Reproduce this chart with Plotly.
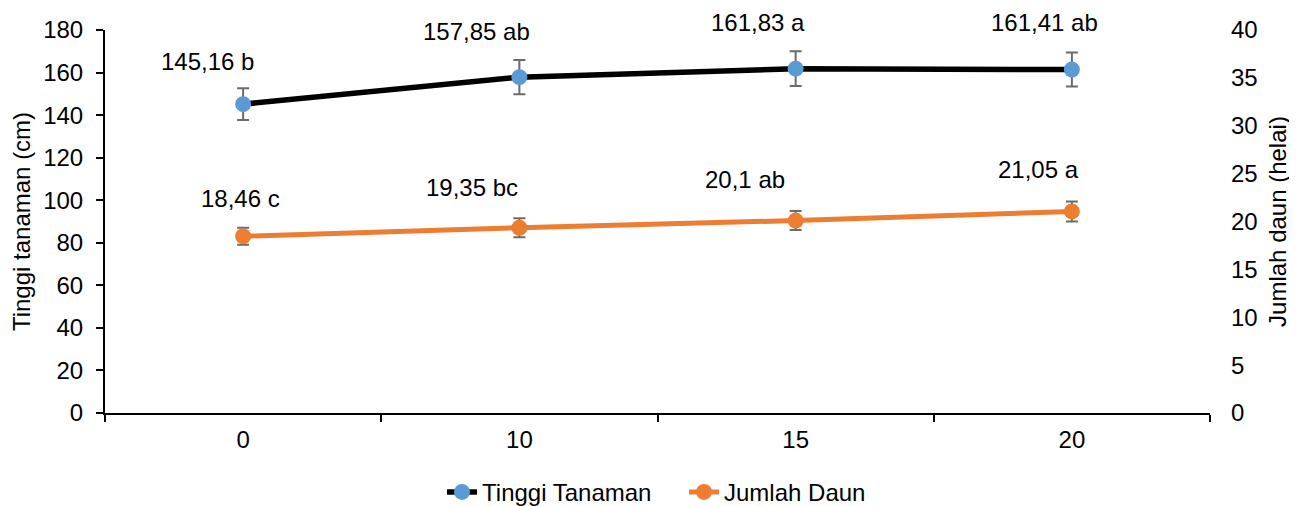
import plotly.graph_objects as go

categories = ["0", "10", "15", "20"]
tinggi = [145.16, 157.85, 161.83, 161.41]
tinggi_err = [7.5, 8.0, 8.2, 8.0]
tinggi_letters = ["b", "ab", "a", "ab"]
daun = [18.46, 19.35, 20.1, 21.05]
daun_err = [0.9, 1.0, 1.0, 1.05]
daun_letters = ["c", "bc", "ab", "a"]

FONT = "Liberation Sans, Arial, sans-serif"
FS = 24

def fmt(v):
    s = f"{v:.2f}".rstrip("0").rstrip(".")
    return s.replace(".", ",")

fig = go.Figure()
fig.add_trace(go.Scatter(
    x=categories, y=tinggi, name="Tinggi Tanaman", mode="lines+markers",
    line=dict(color="#000000", width=5.5),
    marker=dict(color="#5b9bd5", size=16),
    error_y=dict(type="data", array=tinggi_err, color="#6b6b6b", thickness=2, width=6),
    yaxis="y",
))
fig.add_trace(go.Scatter(
    x=categories, y=daun, name="Jumlah Daun", mode="lines+markers",
    line=dict(color="#ed7d31", width=5),
    marker=dict(color="#ed7d31", size=16),
    error_y=dict(type="data", array=daun_err, color="#6b6b6b", thickness=2, width=6),
    yaxis="y2",
))

t_shift = [(-36, 43), (-43, 46), (-38, 46), (-27, 47)]
d_shift = [(-3, 38), (-47, 40), (-51, 41), (-33, 42)]
annotations = []
for i, (v, l, (dx, dy)) in enumerate(zip(tinggi, tinggi_letters, t_shift)):
    annotations.append(dict(x=i, y=v, xref="x", yref="y", text=f"{fmt(v)} {l}",
                            showarrow=False, xshift=dx, yshift=dy,
                            font=dict(size=FS, color="#000000", family=FONT)))
for i, (v, l, (dx, dy)) in enumerate(zip(daun, daun_letters, d_shift)):
    annotations.append(dict(x=i, y=v, xref="x", yref="y2", text=f"{fmt(v)} {l}",
                            showarrow=False, xshift=dx, yshift=dy,
                            font=dict(size=FS, color="#000000", family=FONT)))

fig.update_layout(
    width=1289, height=498,
    margin=dict(l=97, r=87, t=22, b=93, autoexpand=False),
    paper_bgcolor="white", plot_bgcolor="white",
    font=dict(family=FONT, size=FS, color="#000000"),
    showlegend=True,
    legend=dict(orientation="h", x=0.305, xanchor="left", y=-0.207, yanchor="middle",
                font=dict(size=FS), tracegroupgap=0, entrywidth=197,
                entrywidthmode="pixels"),
    xaxis=dict(type="category", range=[-0.5, 3.5], showline=True, linecolor="#000000",
               linewidth=2, ticks="outside", tickson="boundaries", ticklen=7,
               tickcolor="#000000", tickwidth=2, showgrid=False, zeroline=False,
               tickfont=dict(size=FS), ticklabelstandoff=4, automargin=False),
    yaxis=dict(range=[0, 180], dtick=20, showline=True, linecolor="#000000", linewidth=2,
               ticks="outside", ticklen=7, tickcolor="#000000", tickwidth=2,
               showgrid=False, zeroline=False, ticklabelstandoff=8, automargin=False,
               title=dict(text="Tinggi tanaman (cm)", font=dict(size=FS), standoff=7)),
    yaxis2=dict(range=[0, 40], dtick=5, overlaying="y", side="right", showline=False,
                ticks="", showgrid=False, zeroline=False, ticklabelstandoff=20,
                automargin=False,
                title=dict(text="Jumlah daun (helai)", font=dict(size=FS), standoff=12)),
    annotations=annotations,
)

fig.write_html("out.html")
